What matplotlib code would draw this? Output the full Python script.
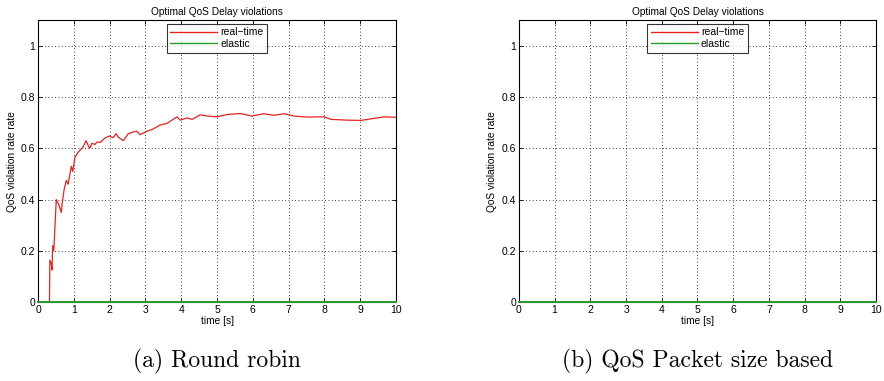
import numpy as np
import matplotlib
matplotlib.use("Agg")
import matplotlib.pyplot as plt

plt.rcParams['font.family'] = ['Liberation Sans', 'DejaVu Sans']

# real-time violation rate, round robin
t_rr = [0.0, 0.32, 0.33, 0.37, 0.39, 0.41, 0.44, 0.51, 0.58, 0.65, 0.67, 0.73,
        0.79, 0.84, 0.93, 0.97, 1.03, 1.12, 1.19, 1.26, 1.34, 1.44, 1.51, 1.59,
        1.65, 1.73, 1.79, 1.87, 1.99, 2.1, 2.18, 2.24, 2.38, 2.52, 2.66, 2.76,
        2.85, 3.04, 3.18, 3.41, 3.6, 3.88, 3.97, 4.16, 4.3, 4.53, 4.72, 5.0,
        5.28, 5.65, 5.98, 6.31, 6.59, 6.87, 7.15, 7.52, 7.99, 8.18, 8.64, 9.02,
        9.39, 9.67, 10.0]
rt_rr = [0.0, 0.0, 0.164, 0.15, 0.125, 0.22, 0.2, 0.4, 0.38, 0.35, 0.38, 0.44,
         0.475, 0.46, 0.53, 0.51, 0.565, 0.585, 0.595, 0.605, 0.63, 0.6, 0.62, 0.615,
         0.625, 0.623, 0.63, 0.64, 0.648, 0.642, 0.657, 0.644, 0.63, 0.657, 0.664, 0.667,
         0.653, 0.667, 0.673, 0.691, 0.697, 0.723, 0.71, 0.719, 0.713, 0.731, 0.726, 0.723,
         0.732, 0.736, 0.726, 0.735, 0.729, 0.735, 0.726, 0.722, 0.723, 0.713, 0.71, 0.709,
         0.717, 0.723, 0.721]

# everything else stays at zero
t_zero = [0.0, 10.0]
el_rr = [0.0, 0.0]
rt_qos = [0.0, 0.0]
el_qos = [0.0, 0.0]

captions = ["(a) Round robin", "(b) QoS Packet size based"]

fig = plt.figure(figsize=(8.84, 3.81), dpi=100)
ax1 = fig.add_axes([0.043, 0.207, 0.405, 0.740])
ax2 = fig.add_axes([0.587, 0.207, 0.404, 0.740])

ax1.plot(t_rr, rt_rr, color="#e8221c", lw=0.9, label="real\u2212time")
ax1.plot(t_zero, el_rr, color="#2a9a2a", lw=1.4, label="elastic", clip_on=False, zorder=5)
ax2.plot(t_zero, rt_qos, color="#e8221c", lw=0.9, label="real\u2212time")
ax2.plot(t_zero, el_qos, color="#2a9a2a", lw=1.4, label="elastic", clip_on=False, zorder=5)

for ax, cap in zip([ax1, ax2], captions):
    ax.set_xlim(0, 10)
    ax.set_ylim(0, 1.1)
    ax.set_xticks(np.arange(0, 11, 1))
    ax.set_yticks([0, 0.2, 0.4, 0.6, 0.8, 1])
    ax.set_yticklabels(["0", "0.2", "0.4", "0.6", "0.8", "1"])
    ax.tick_params(direction="in", top=True, right=True, labelsize=7.5, length=3, width=0.6, pad=2)
    ax.grid(True, color="black", linestyle=(0, (1, 3)), linewidth=0.6)
    for s in ax.spines.values():
        s.set_linewidth(0.8)
    ax.set_title("Optimal QoS Delay violations", fontsize=7.3, pad=4)
    ax.set_xlabel("time [s]", fontsize=7.3, labelpad=1)
    ax.set_ylabel("QoS violation rate rate", fontsize=7.3, labelpad=3)
    leg = ax.legend(loc="upper center", fontsize=7.5, handlelength=4.5, borderpad=0.35,
                    labelspacing=0.15, fancybox=False, edgecolor="black",
                    borderaxespad=0.35, handletextpad=0.3)
    leg.get_frame().set_linewidth(0.8)
    for h in leg.get_lines():
        h.set_linewidth(1.0)
    pos = ax.get_position()
    fig.text(pos.x0 + pos.width / 2, 0.052, cap, ha="center", va="center",
             fontsize=17, family=["cmr10", "DejaVu Serif"])

fig.savefig("out.png", dpi=100)
